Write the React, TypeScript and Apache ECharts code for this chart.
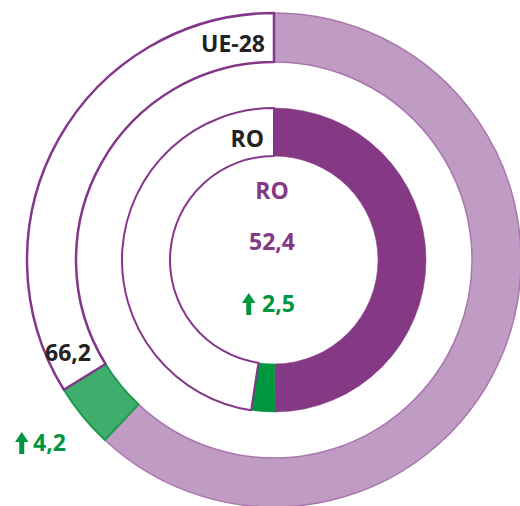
import React, { useEffect, useRef } from "react";
import * as echarts from "echarts";

const outerLabel = "UE-28";
const innerLabel = "RO";
const outerTotal = 66.2;
const outerIncrease = 4.2;
const innerTotal = 52.4;
const innerIncrease = 2.5;

const fmt = (v: number) => v.toFixed(1).replace(".", ",");

export default function App() {
  const ref = useRef<HTMLDivElement>(null);
  useEffect(() => {
    if (!ref.current) return;
    const chart = echarts.init(ref.current, undefined, { renderer: "svg" });
    const purpleLine = "#84378A";
    const font = "Open Sans";
    const arrow = (x: number, y: number, color: string) => ({
      type: "polygon",
      z: 100,
      shape: {
        points: [
          [x + 6.75, y],
          [x + 13.5, y + 10],
          [x + 9.25, y + 10],
          [x + 9.25, y + 22],
          [x + 4.25, y + 22],
          [x + 4.25, y + 10],
          [x, y + 10],
        ],
      },
      style: { fill: color },
    });
    const txt = (text: string, x: number, y: number, color: string, align: string) => ({
      type: "text",
      z: 100,
      x,
      y,
      style: {
        text,
        fill: color,
        font: `bold 23px "${font}"`,
        align,
        verticalAlign: "middle",
      },
    });
    chart.setOption({
      animation: false,
      series: [
        {
          type: "pie",
          center: [274, 260],
          radius: [198, 247],
          startAngle: 90,
          clockwise: true,
          silent: true,
          z: 1,
          label: { show: false },
          labelLine: { show: false },
          emphasis: { disabled: true },
          data: [
            {
              value: outerTotal - outerIncrease,
              itemStyle: { color: "#C09BC3", borderColor: "#A877AD", borderWidth: 1.5 },
            },
            {
              value: outerIncrease,
              itemStyle: { color: "#3EAE6C", borderColor: "#1F9A4E", borderWidth: 2 },
            },
            {
              value: 100 - outerTotal,
              itemStyle: { color: "#FFFFFF", borderColor: purpleLine, borderWidth: 2.5 },
            },
          ],
        },
        {
          type: "pie",
          center: [274, 260],
          radius: [104, 152],
          startAngle: 90,
          clockwise: true,
          silent: true,
          z: 1,
          label: { show: false },
          labelLine: { show: false },
          emphasis: { disabled: true },
          data: [
            {
              value: innerTotal - innerIncrease,
              itemStyle: { color: "#853984", borderColor: "#853984", borderWidth: 0.5 },
            },
            {
              value: innerIncrease,
              itemStyle: { color: "#009640", borderColor: "#009640", borderWidth: 0.5 },
            },
            {
              value: 100 - innerTotal,
              itemStyle: { color: "#FFFFFF", borderColor: purpleLine, borderWidth: 2 },
            },
          ],
        },
      ],
      graphic: [
        txt(outerLabel, 265, 43, "#222222", "right"),
        txt(innerLabel, 264, 138, "#222222", "right"),
        txt(innerLabel, 272, 190, "#853984", "center"),
        txt(fmt(innerTotal), 272, 241, "#853984", "center"),
        arrow(242, 293, "#009640"),
        txt(fmt(innerIncrease), 262, 303, "#009640", "left"),
        txt(fmt(outerTotal), 45, 352, "#222222", "left"),
        arrow(15, 432, "#009640"),
        txt(fmt(outerIncrease), 33, 442, "#009640", "left"),
      ],
    });
    return () => chart.dispose();
  }, []);
  return (
    <div
      ref={ref}
      style={{ position: "absolute", left: 0, top: 0, width: 520, height: 506 }}
    />
  );
}
